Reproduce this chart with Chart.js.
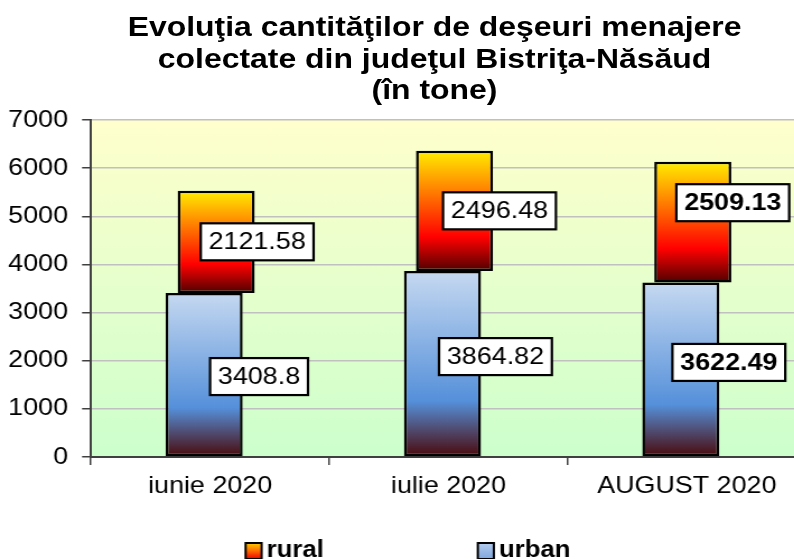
<!DOCTYPE html>
<html><head><meta charset="utf-8">
<script src="https://cdn.jsdelivr.net/npm/chart.js@4.4.1/dist/chart.umd.min.js"></script>
<style>
html,body{margin:0;padding:0;overflow:hidden;background:#fff;width:794px;height:559px;}
#wrap{position:absolute;left:0;top:0;width:732px;height:559px;transform:scaleX(1.12);transform-origin:0 0;}
#title{position:absolute;left:0;top:11px;width:776px;text-align:center;font-family:"Liberation Sans",Arial,sans-serif;font-weight:bold;font-size:28.5px;line-height:31.5px;color:#000;white-space:nowrap;}
canvas{position:absolute;left:0;top:0;}
</style></head><body>
<div id="wrap">
<canvas id="c" width="732" height="559"></canvas>
<div id="title">Evoluţia cantităţilor de deşeuri menajere<br>colectate din judeţul Bistriţa-Năsăud<br>(în tone)</div>
</div>
<script>
// ---- data ----
const categories = ['iunie 2020', 'iulie 2020', 'AUGUST 2020'];
const urban = [3408.8, 3864.82, 3622.49];
const rural = [2121.58, 2496.48, 2509.13];
const yMin = 0, yMax = 7000, yStep = 1000;

// ---- style ----
const FONT = '"Liberation Sans", Arial, sans-serif';
const urbanStops = [[0, '#c6d9f1'], [0.7, '#5590da'], [1, '#4a0808']];
const ruralStops = [[0, '#ffee00'], [0.72, '#ff0000'], [1, '#500000']];
const legendIcon = { rural: [[0, '#ffcc00'], [0.5, '#ff6a00'], [1, '#ee0000']], urban: [[0, '#b4cdee'], [1, '#7fa6dc']] };
const labelStyle = {
  urban: { dx: [49, 47.3, 42.9], dy: [2, -7, -7] },
  rural: { dx: [36.6, 40.2, 35.7], dy: [0, 0, -19.5] }
};
const boldLabel = [false, false, true];
const legendLayout = { centerX: 364.3, top: 543, w: 14.3, h: 16, gap: 4.5, spacing: 137.4, baseline: 557 };

function gradientFor(stops, lowFn, highFn) {
  return (ctx) => {
    const chart = ctx.chart;
    const y = chart.scales && chart.scales.y;
    if (!chart.chartArea || !y || ctx.type !== 'data') return stops[0][1];
    const i = ctx.dataIndex;
    const top = y.getPixelForValue(highFn(i));
    const bot = y.getPixelForValue(lowFn(i));
    const g = chart.ctx.createLinearGradient(0, top, 0, bot);
    stops.forEach(([o, c]) => g.addColorStop(o, c));
    return g;
  };
}

const bgPlugin = {
  id: 'plotBg',
  beforeDraw(chart) {
    const { ctx, chartArea: a } = chart;
    const g = ctx.createLinearGradient(0, a.top, 0, a.bottom);
    g.addColorStop(0, '#ffffcc');
    g.addColorStop(1, '#ccffcc');
    ctx.save();
    ctx.fillStyle = g;
    ctx.fillRect(a.left, a.top, a.right - a.left, a.bottom - a.top);
    ctx.restore();
  }
};

const valueBoxes = {
  id: 'valueBoxes',
  afterDatasetsDraw(chart) {
    const c = chart.ctx;
    chart.data.datasets.forEach((ds, di) => {
      const meta = chart.getDatasetMeta(di);
      const st = labelStyle[ds.label];
      meta.data.forEach((bar, i) => {
        const txt = String(ds.data[i]);
        c.save();
        c.font = (boldLabel[i] ? 'bold ' : '') + '24px ' + FONT;
        const tw = c.measureText(txt).width;
        const w = tw + 14, h = 37;
        const cx = bar.x + st.dx[i];
        const cy = (bar.y + bar.base) / 2 + st.dy[i];
        c.fillStyle = '#fff';
        c.fillRect(cx - w / 2, cy - h / 2, w, h);
        c.lineWidth = 2.2;
        c.strokeStyle = '#000';
        c.strokeRect(cx - w / 2, cy - h / 2, w, h);
        c.fillStyle = '#000';
        c.textAlign = 'center';
        c.textBaseline = 'middle';
        c.fillText(txt, cx, cy + 1);
        c.restore();
      });
    });
  }
};

const bottomLegend = {
  id: 'bottomLegend',
  afterDraw(chart) {
    const c = chart.ctx;
    const L = legendLayout;
    const items = chart.data.datasets.map(d => d.label).reverse();
    c.save();
    c.font = 'bold 23px ' + FONT;
    const widths = items.map(t => L.w + L.gap + c.measureText(t).width);
    const total = widths.reduce((a, b) => a + b, 0) + L.spacing * (items.length - 1);
    let x = L.centerX - total / 2;
    items.forEach((t, k) => {
      const g = c.createLinearGradient(0, L.top, 0, L.top + L.h);
      legendIcon[t].forEach(([o, col]) => g.addColorStop(o, col));
      c.fillStyle = g;
      c.fillRect(x, L.top, L.w, L.h);
      c.lineWidth = 2;
      c.strokeStyle = '#000';
      c.strokeRect(x, L.top, L.w, L.h);
      c.fillStyle = '#000';
      c.textAlign = 'left';
      c.textBaseline = 'alphabetic';
      c.fillText(t, x + L.w + L.gap, L.baseline);
      x += widths[k] + L.spacing;
    });
    c.restore();
  }
};

new Chart(document.getElementById('c'), {
  type: 'bar',
  data: {
    labels: categories,
    datasets: [
      {
        label: 'urban', data: urban,
        backgroundColor: gradientFor(urbanStops, () => 0, i => urban[i]),
        borderColor: '#000', borderWidth: 2.5, borderSkipped: false,
        categoryPercentage: 0.1007, barPercentage: 6.42
      },
      {
        label: 'rural', data: rural,
        backgroundColor: gradientFor(ruralStops, i => urban[i], i => urban[i] + rural[i]),
        borderColor: '#000', borderWidth: 2.5, borderSkipped: false,
        categoryPercentage: 0.1007, barPercentage: 6.42
      }
    ]
  },
  options: {
    responsive: false,
    animation: false,
    layout: { padding: { top: 120, left: 0, right: 12.4, bottom: 0 } },
    plugins: { legend: { display: false }, title: { display: false }, tooltip: { enabled: false } },
    scales: {
      x: {
        stacked: false, offset: true,
        grid: { offset: true, drawOnChartArea: false, drawTicks: true, tickLength: 8, color: '#404040', lineWidth: 1.5 },
        border: { display: true, color: '#404040', width: 2 },
        ticks: { font: { family: FONT, size: 24 }, color: '#000', padding: 7, maxRotation: 0, autoSkip: false },
        afterFit(s) { s.height = 102; }
      },
      y: {
        stacked: true, min: yMin, max: yMax,
        ticks: { stepSize: yStep, font: { family: FONT, size: 24 }, color: '#000', padding: 12.5, callback: v => String(v) },
        grid: { color: '#c0c0c0', lineWidth: 1.5, tickColor: '#404040', tickLength: 8 },
        border: { display: true, color: '#404040', width: 2 },
        afterFit(s) { s.width = 81.25; }
      }
    }
  },
  plugins: [bgPlugin, valueBoxes, bottomLegend]
});
</script>
</body></html>
